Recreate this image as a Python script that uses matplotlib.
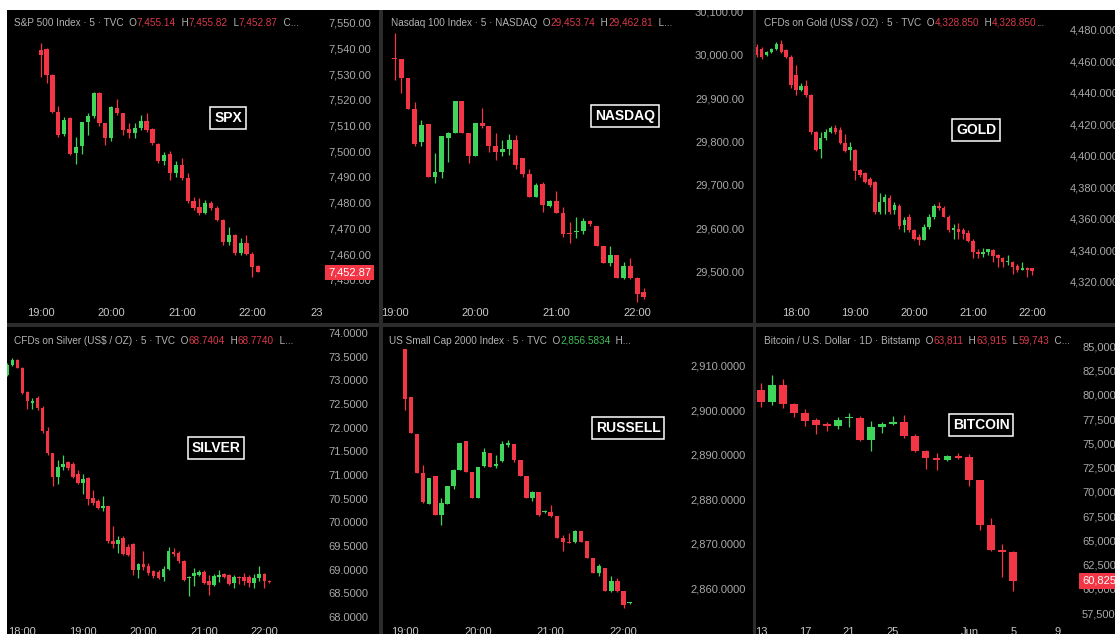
import matplotlib
matplotlib.use("Agg")
import matplotlib.pyplot as plt
import matplotlib.transforms as mtransforms
from matplotlib.patches import Rectangle

plt.rcParams['font.family'] = ['Liberation Sans', 'DejaVu Sans']

# ---------------- data ----------------
spx_open = [7539.4, 7539.6, 7529.6, 7515.4, 7506.6, 7512.8, 7499.4, 7502.1, 7511.2, 7513.7,
            7522.8, 7510.8, 7505.3, 7516.9, 7514.7, 7508.5, 7507.0, 7509.2, 7511.9, 7508.5,
            7502.8, 7496.0, 7498.9, 7491.4, 7494.6, 7489.4, 7480.6, 7478.2, 7475.8, 7480.0,
            7478.0, 7473.2, 7464.5, 7467.3, 7460.3, 7464.1, 7460.0, 7455.14]
spx_high = [7542.0, 7540.0, 7530.0, 7517.6, 7513.5, 7513.4, 7505.6, 7511.5, 7515.0, 7523.0,
            7523.0, 7511.0, 7517.5, 7520.4, 7515.0, 7510.8, 7511.0, 7514.0, 7514.7, 7509.0,
            7503.0, 7499.8, 7500.2, 7496.0, 7497.2, 7491.4, 7482.3, 7481.7, 7481.0, 7480.6,
            7478.7, 7473.5, 7470.6, 7467.6, 7466.1, 7467.4, 7460.9, 7455.82]
spx_low = [7528.7, 7526.4, 7515.0, 7505.7, 7506.0, 7498.5, 7494.9, 7498.9, 7506.3, 7513.0,
           7510.0, 7502.4, 7504.0, 7514.0, 7506.3, 7505.0, 7505.3, 7508.2, 7507.6, 7502.5,
           7495.3, 7494.6, 7488.8, 7490.0, 7488.8, 7479.7, 7477.1, 7475.2, 7475.6, 7477.1,
           7473.0, 7463.5, 7463.5, 7459.6, 7459.6, 7459.6, 7451.2, 7452.87]
spx_close = [7537.4, 7529.6, 7515.4, 7506.3, 7512.1, 7498.8, 7501.8, 7511.2, 7513.7, 7522.8,
             7510.8, 7505.3, 7517.3, 7514.7, 7508.2, 7507.0, 7509.2, 7511.7, 7508.2, 7503.0,
             7496.3, 7498.5, 7491.4, 7494.6, 7489.4, 7480.7, 7477.8, 7475.8, 7480.0, 7477.8,
             7473.2, 7464.5, 7467.3, 7460.3, 7464.1, 7460.0, 7454.8, 7452.87]

ndx_open = [29992, 29990, 29948, 29875, 29800, 29841, 29719, 29731, 29808, 29821,
            29894, 29821, 29767, 29844, 29836, 29791, 29775, 29783, 29804, 29763,
            29725, 29673, 29702, 29652, 29662, 29636, 29590, 29591, 29594, 29617,
            29606, 29560, 29521, 29538, 29485, 29514, 29485, 29453.74]
ndx_high = [30050, 29990, 29948, 29892, 29850, 29841, 29773, 29812, 29823, 29894,
            29894, 29821, 29844, 29877, 29836, 29819, 29804, 29817, 29815, 29763,
            29738, 29704, 29708, 29665, 29685, 29650, 29615, 29627, 29623, 29619,
            29606, 29560, 29559, 29538, 29523, 29531, 29488, 29462.81]
ndx_low = [29942, 29912, 29875, 29791, 29791, 29719, 29704, 29717, 29754, 29821,
           29821, 29750, 29767, 29831, 29777, 29758, 29767, 29769, 29738, 29719,
           29673, 29673, 29638, 29650, 29635, 29581, 29565, 29577, 29588, 29605,
           29560, 29519, 29513, 29485, 29482, 29482, 29431, 29436]
ndx_close = [29990, 29948, 29875, 29795, 29838, 29719, 29731, 29812, 29821, 29894,
             29821, 29767, 29844, 29835, 29791, 29775, 29783, 29804, 29746, 29725,
             29673, 29700, 29654, 29663, 29635, 29588, 29586, 29594, 29618, 29609,
             29560, 29521, 29538, 29485, 29514, 29485, 29448, 29441]

gold_open = [4469.0, 4467.9, 4463.7, 4465.8, 4467.4, 4471.1, 4466.9, 4462.7, 4451.0, 4441.5,
             4444.1, 4438.4, 4415.1, 4404.5, 4410.9, 4415.1, 4417.6, 4416.2, 4408.1, 4403.5,
             4403.5, 4390.8, 4388.7, 4384.9, 4383.4, 4364.4, 4370.7, 4373.4, 4365.4, 4368.2,
             4356.3, 4361.2, 4352.7, 4348.5, 4346.8, 4354.8, 4361.2, 4368.0, 4367.1, 4361.2,
             4352.7, 4353.8, 4353.1, 4351.0, 4346.0, 4339.0, 4337.9, 4338.8, 4340.0, 4336.9,
             4335.2, 4332.6, 4332.6, 4329.9, 4327.8, 4329.0, 4328.85]
gold_high = [4471.1, 4469.0, 4466.5, 4468.5, 4472.2, 4473.6, 4467.5, 4463.7, 4457.4, 4446.2,
             4447.9, 4438.8, 4415.5, 4415.1, 4417.2, 4418.7, 4419.3, 4418.3, 4414.0, 4408.8,
             4404.5, 4391.8, 4389.7, 4386.6, 4383.8, 4376.4, 4375.6, 4374.9, 4370.7, 4369.6,
             4361.2, 4363.3, 4353.8, 4350.2, 4356.5, 4363.3, 4369.2, 4370.7, 4367.9, 4362.2,
             4356.5, 4357.4, 4354.4, 4353.1, 4347.4, 4341.1, 4341.7, 4341.1, 4341.1, 4337.9,
             4335.8, 4336.9, 4333.1, 4331.6, 4332.6, 4329.5, 4328.85]
gold_low = [4462.7, 4461.6, 4463.0, 4465.2, 4466.9, 4465.2, 4462.0, 4442.6, 4438.4, 4441.1,
            4437.3, 4414.0, 4403.0, 4398.2, 4409.8, 4414.5, 4414.0, 4407.7, 4402.4, 4397.1,
            4384.4, 4386.6, 4382.7, 4380.2, 4363.3, 4363.3, 4363.3, 4363.3, 4363.3, 4353.8,
            4351.7, 4351.7, 4346.4, 4343.2, 4346.4, 4353.8, 4360.1, 4365.4, 4360.8, 4351.7,
            4347.4, 4347.4, 4347.4, 4345.3, 4334.8, 4334.8, 4335.8, 4336.9, 4332.6, 4329.5,
            4329.5, 4330.5, 4325.2, 4326.3, 4327.4, 4323.1, 4324.5]
gold_close = [4463.7, 4462.7, 4465.8, 4467.9, 4471.1, 4465.8, 4462.7, 4444.7, 4441.5, 4444.1,
              4438.4, 4415.1, 4403.5, 4410.9, 4415.1, 4417.6, 4415.1, 4408.1, 4403.0, 4405.6,
              4390.4, 4387.6, 4383.4, 4381.3, 4364.4, 4370.7, 4373.9, 4364.4, 4368.6, 4355.3,
              4359.5, 4352.7, 4347.4, 4346.4, 4354.8, 4361.2, 4368.0, 4366.5, 4361.2, 4352.7,
              4354.4, 4351.7, 4350.6, 4346.0, 4339.0, 4337.9, 4339.0, 4340.5, 4336.2, 4334.8,
              4332.6, 4333.3, 4329.5, 4327.4, 4328.8, 4327.8, 4326.6]

silver_open = [73.12, 73.33, 73.42, 73.27, 72.75, 72.52, 72.63, 72.42, 71.92, 71.46,
               70.95, 71.16, 71.27, 71.22, 71.01, 70.83, 70.94, 70.51, 70.44, 70.30,
               70.34, 69.60, 69.53, 69.67, 69.48, 69.53, 69.00, 69.11, 69.08, 68.96,
               68.94, 68.84, 69.02, 69.37, 69.35, 69.19, 68.81, 68.86, 68.89, 68.95,
               68.75, 68.67, 68.84, 68.91, 68.88, 68.72, 68.84, 68.84, 68.84, 68.72,
               68.81, 68.91, 68.7404]
silver_high = [73.36, 73.47, 73.44, 73.29, 72.78, 72.62, 72.67, 72.45, 72.02, 71.46,
               71.32, 71.43, 71.30, 71.27, 71.11, 71.01, 70.95, 70.69, 70.48, 70.55,
               70.35, 69.92, 69.70, 69.70, 69.53, 69.56, 69.13, 69.39, 69.13, 69.00,
               69.00, 69.07, 69.47, 69.46, 69.39, 69.21, 68.87, 69.03, 69.00, 68.98,
               68.89, 68.90, 68.98, 68.93, 68.91, 68.89, 68.86, 68.93, 68.89, 68.91,
               69.07, 68.93, 68.774]
silver_low = [73.10, 73.30, 73.25, 72.71, 72.40, 72.40, 72.38, 71.88, 71.43, 70.76,
              70.80, 71.11, 71.11, 70.94, 70.80, 70.60, 70.37, 70.37, 70.28, 70.23,
              69.56, 69.46, 69.35, 69.30, 69.28, 68.89, 68.82, 69.00, 68.89, 68.82,
              68.79, 68.76, 69.00, 69.28, 69.14, 68.76, 68.44, 68.65, 68.86, 68.69,
              68.47, 68.65, 68.74, 68.81, 68.68, 68.61, 68.70, 68.68, 68.63, 68.61,
              68.76, 68.61, 68.71]
silver_close = [73.33, 73.42, 73.27, 72.73, 72.56, 72.57, 72.42, 71.92, 71.46, 70.95,
                71.16, 71.23, 71.15, 70.95, 70.83, 70.92, 70.48, 70.41, 70.30, 70.34,
                69.60, 69.54, 69.63, 69.32, 69.30, 69.00, 69.12, 69.05, 68.93, 68.86,
                68.82, 69.02, 69.39, 69.33, 69.18, 68.77, 68.85, 68.93, 68.95, 68.72,
                68.67, 68.86, 68.89, 68.84, 68.70, 68.84, 68.81, 68.75, 68.72, 68.82,
                68.91, 68.75, 68.73]

rut_open = [2913.8, 2902.9, 2894.6, 2885.9, 2878.9, 2885.1, 2876.5, 2879.0, 2882.9, 2886.5,
            2893.1, 2886.2, 2880.2, 2887.5, 2890.4, 2887.5, 2888.5, 2892.2, 2892.4, 2888.9,
            2885.1, 2880.2, 2881.7, 2877.0, 2877.2, 2876.1, 2871.2, 2870.4, 2870.3, 2872.9,
            2870.5, 2866.7, 2863.4, 2864.6, 2859.3, 2861.5, 2859.3, 2856.5834]
rut_high = [2913.8, 2902.9, 2894.6, 2887.7, 2884.7, 2885.1, 2880.2, 2882.9, 2886.7, 2892.6,
            2893.1, 2886.2, 2887.2, 2891.5, 2890.4, 2890.0, 2893.1, 2893.4, 2892.4, 2888.9,
            2885.1, 2881.9, 2881.7, 2877.6, 2878.7, 2876.1, 2872.0, 2872.4, 2873.1, 2872.9,
            2870.5, 2866.7, 2865.3, 2864.6, 2862.6, 2862.2, 2859.3, 2856.8]
rut_low = [2900.1, 2894.9, 2885.9, 2879.1, 2878.9, 2876.5, 2874.1, 2879.0, 2882.3, 2886.5,
           2886.1, 2880.2, 2880.2, 2887.2, 2887.2, 2887.0, 2888.3, 2891.8, 2888.3, 2885.3,
           2880.2, 2879.5, 2876.1, 2876.8, 2875.9, 2871.2, 2868.4, 2870.1, 2870.2, 2870.3,
           2866.7, 2863.4, 2862.8, 2859.3, 2859.0, 2859.2, 2855.5, 2856.5]
rut_close = [2902.6, 2894.9, 2885.9, 2879.3, 2884.7, 2876.5, 2879.1, 2882.9, 2886.5, 2892.6,
             2886.1, 2880.2, 2887.2, 2890.6, 2887.2, 2888.0, 2892.4, 2892.6, 2888.9, 2885.3,
             2880.2, 2881.6, 2876.5, 2877.4, 2876.1, 2871.2, 2870.3, 2870.1, 2872.9, 2870.3,
             2866.7, 2863.4, 2864.9, 2859.3, 2861.5, 2859.4, 2856.1, 2856.7]

btc_open = [80533, 79261, 81048, 79055, 78127, 77440, 76993, 76753, 77612, 77612, 75378, 76649,
            76993, 77199, 75722, 74244, 73488, 73316, 73728, 73557, 71254, 66615, 63969, 63811]
btc_high = [81220, 82010, 81667, 79158, 78574, 77612, 77199, 77749, 78127, 77784, 77268, 77199,
            77784, 77955, 75962, 74347, 74003, 73832, 74003, 73900, 71254, 67302, 64622, 63915]
btc_low = [78711, 78918, 78643, 77680, 76753, 75962, 76237, 76512, 76649, 75275, 74175, 76065,
           76856, 75550, 74107, 72388, 72285, 73213, 73419, 70567, 66100, 63866, 61186, 59743]
btc_close = [79261, 81048, 79055, 78127, 77337, 76924, 76753, 77440, 77715, 75378, 76649, 76993,
             77199, 75722, 74244, 73488, 73316, 73728, 73488, 71254, 66546, 63969, 63763, 60825]

# time axis labels (candle index, text)
spx_xticks = [0, 12, 24, 36, 47]
spx_xlabels = ["19:00", "20:00", "21:00", "22:00", "23"]
ndx_xticks = [0, 12, 24, 36]
ndx_xlabels = ["19:00", "20:00", "21:00", "22:00"]
gold_xticks = [8, 20, 32, 44, 56]
gold_xlabels = ["18:00", "19:00", "20:00", "21:00", "22:00"]
silver_xticks = [3, 15, 27, 39, 51]
silver_xlabels = ["18:00", "19:00", "20:00", "21:00", "22:00"]
rut_xticks = [0, 12, 24, 36]
rut_xlabels = ["19:00", "20:00", "21:00", "22:00"]
btc_xticks = [0, 4, 8, 12, 19, 23, 27]
btc_xlabels = ["13", "17", "21", "25", "Jun", "5", "9"]

# price scale ticks
spx_yticks = [7450, 7460, 7470, 7480, 7490, 7500, 7510, 7520, 7530, 7540, 7550]
ndx_yticks = [29500, 29600, 29700, 29800, 29900, 30000, 30100]
gold_yticks = [4320, 4340, 4360, 4380, 4400, 4420, 4440, 4460, 4480]
silver_yticks = [68.0, 68.5, 69.0, 69.5, 70.0, 70.5, 71.0, 71.5, 72.0, 72.5, 73.0, 73.5, 74.0]
rut_yticks = [2860, 2870, 2880, 2890, 2900, 2910]
btc_yticks = [57500, 60000, 62500, 65000, 67500, 70000, 72500, 75000, 77500, 80000, 82500, 85000]

# ---------------- style ----------------
W, H = 1115, 634
RED = '#f23645'
GREEN = '#3fd45a'
HDR_GREY = '#b3b3b3'
HDR_RED = '#d8394a'
HDR_GREEN = '#3cbf58'
AX_GREY = '#a8a8a8'
TIME_GREY = '#c9c9c9'
DIVIDER = '#2c2c2c'

fig = plt.figure(figsize=(W / 100, H / 100), dpi=100, facecolor=DIVIDER)


def px_rect(l, t, r, b):
    return [l / W, 1 - b / H, (r - l) / W, (b - t) / H]


def panel(o, h, l, c, xticks, xlabels, yticks, yfmt, box, chart_r, chart_b, lab_x,
          x0, dx, p0, py0, k, time_y, header, hdr_xy, tag, name, name_xy):
    L, T, R, B = box
    bg = fig.add_axes(px_rect(L, T, R, B))
    bg.set_facecolor('black')
    bg.set_xticks([])
    bg.set_yticks([])
    for s in bg.spines.values():
        s.set_visible(False)

    ax = fig.add_axes(px_rect(L, T, chart_r, chart_b))
    ax.set_facecolor('none')
    for s in ax.spines.values():
        s.set_visible(False)
    ax.set_xlim((L - x0) / dx, (chart_r - x0) / dx)
    ylo = p0 - (chart_b - py0) / k
    yhi = p0 + (py0 - T) / k
    ax.set_ylim(ylo, yhi)

    n = len(o)
    xs = list(range(n))
    cols = [GREEN if cc >= oo else RED for oo, cc in zip(o, c)]
    min_h = (yhi - ylo) * 0.004
    bottoms = [min(oo, cc) for oo, cc in zip(o, c)]
    heights = [max(abs(cc - oo), min_h) for oo, cc in zip(o, c)]
    ax.vlines(xs, l, h, colors=cols, linewidth=0.9, zorder=2)
    ax.bar(xs, heights, bottom=bottoms, width=0.72, color=cols, linewidth=0, zorder=3)

    ax.yaxis.tick_right()
    ax.set_yticks(yticks)
    ax.set_yticklabels([yfmt.format(v) for v in yticks])
    ax.set_xticks(xticks)
    ax.set_xticklabels(xlabels)
    ax.tick_params(axis='y', length=0, pad=(lab_x - chart_r) * 0.72, labelsize=8,
                   labelcolor=AX_GREY)
    ax.tick_params(axis='x', length=0, pad=(time_y - 4.6 - chart_b) * 0.72, labelsize=8,
                   labelcolor=TIME_GREY)

    # last price tag
    if tag is not None:
        tr = mtransforms.blended_transform_factory(ax.transAxes, ax.transData)
        ax.text(1 + (lab_x - chart_r) / (chart_r - L), tag, yfmt.format(tag), transform=tr,
                ha='left', va='center', fontsize=8, color='white', zorder=6, clip_on=False,
                bbox=dict(boxstyle='square,pad=0.25', fc=RED, ec='none'))

    # header line with coloured OHLC values
    hx, hy = hdr_xy
    t = bg.text((hx - L) / (R - L), (B - hy) / (B - T), header[0][0], color=header[0][1],
                fontsize=7.2, ha='left', va='center', transform=bg.transAxes)
    for s, col in header[1:]:
        t = bg.annotate(s, xy=(1, 0.5), xycoords=t, ha='left', va='center',
                        color=col, fontsize=7.2, annotation_clip=False)

    # ticker label box
    nx, ny = name_xy
    bg.text((nx - L) / (R - L), (B - ny) / (B - T), name, transform=bg.transAxes,
            ha='center', va='center', fontsize=10, fontweight='bold', color='white', zorder=7,
            bbox=dict(boxstyle='square,pad=0.28', fc='black', ec='white', lw=1.1))
    return ax


panel(spx_open, spx_high, spx_low, spx_close, spx_xticks, spx_xlabels, spx_yticks, "{:,.2f}",
      (7, 10, 379, 323), 322, 303, 328, 40.7, 5.88, 7550, 22.7, 2.57, 313,
      [("S&P 500 Index · 5 · TVC  O", HDR_GREY), ("7,455.14", HDR_RED), ("  H", HDR_GREY),
       ("7,455.82", HDR_RED), ("  L", HDR_GREY), ("7,452.87", HDR_RED), ("  C...", HDR_GREY)],
      (14, 22.7), 7452.87, "SPX", (228, 118))

panel(ndx_open, ndx_high, ndx_low, ndx_close, ndx_xticks, ndx_xlabels, ndx_yticks, "{:,.2f}",
      (383, 10, 753, 323), 690, 303, 695, 394.5, 6.74, 30000, 55, 0.4333, 313,
      [("Nasdaq 100 Index · 5 · NASDAQ  O", HDR_GREY), ("29,453.74", HDR_RED), ("  H", HDR_GREY),
       ("29,462.81", HDR_RED), ("  L...", HDR_GREY)],
      (391, 22.7), None, "NASDAQ", (625, 116))

panel(gold_open, gold_high, gold_low, gold_close, gold_xticks, gold_xlabels, gold_yticks, "{:,.3f}",
      (756, 10, 1115, 323), 1062, 303, 1070, 756.7, 4.92, 4480, 29.5, 1.577, 313,
      [("CFDs on Gold (US$ / OZ) · 5 · TVC  O", HDR_GREY), ("4,328.850", HDR_RED), ("  H", HDR_GREY),
       ("4,328.850", HDR_RED), ("...", HDR_GREY)],
      (764, 22.7), None, "GOLD", (976, 130))

panel(silver_open, silver_high, silver_low, silver_close, silver_xticks, silver_xlabels,
      silver_yticks, "{:.4f}",
      (7, 327, 379, 634), 322, 622, 328, 7.3, 5.04, 74.0, 333, 47.3, 632,
      [("CFDs on Silver (US$ / OZ) · 5 · TVC  O", HDR_GREY), ("68.7404", HDR_RED), ("  H", HDR_GREY),
       ("68.7740", HDR_RED), ("  L...", HDR_GREY)],
      (14, 340.7), None, "SILVER", (216, 448))

panel(rut_open, rut_high, rut_low, rut_close, rut_xticks, rut_xlabels, rut_yticks, "{:,.4f}",
      (383, 327, 753, 634), 688, 622, 690, 405, 6.07, 2910, 365.7, 4.447, 632,
      [("US Small Cap 2000 Index · 5 · TVC  O", HDR_GREY), ("2,856.5834", HDR_GREEN),
       ("  H...", HDR_GREY)],
      (389, 340.7), None, "RUSSELL", (628, 428))

panel(btc_open, btc_high, btc_low, btc_close, btc_xticks, btc_xlabels, btc_yticks, "{:,.0f}",
      (756, 327, 1115, 634), 1075, 622, 1082, 761, 10.97, 85000, 346.3, 0.0097, 632,
      [("Bitcoin / U.S. Dollar · 1D · Bitstamp  O", HDR_GREY), ("63,811", HDR_RED), ("  H", HDR_GREY),
       ("63,915", HDR_RED), ("  L", HDR_GREY), ("59,743", HDR_RED), ("  C...", HDR_GREY)],
      (764, 340.7), 60825, "BITCOIN", (981, 425))

# dividers and white margins drawn above the panels
for l, t, r, b, col in [(379, 0, 383, H, DIVIDER), (753, 0, 756, H, DIVIDER),
                        (0, 323, W, 327, DIVIDER), (0, 0, W, 10, 'white'), (0, 0, 7, H, 'white')]:
    fig.patches.append(Rectangle((l / W, 1 - b / H), (r - l) / W, (b - t) / H,
                                 transform=fig.transFigure, facecolor=col, edgecolor='none',
                                 zorder=20))

fig.savefig("out.png", dpi=100, facecolor=fig.get_facecolor())
